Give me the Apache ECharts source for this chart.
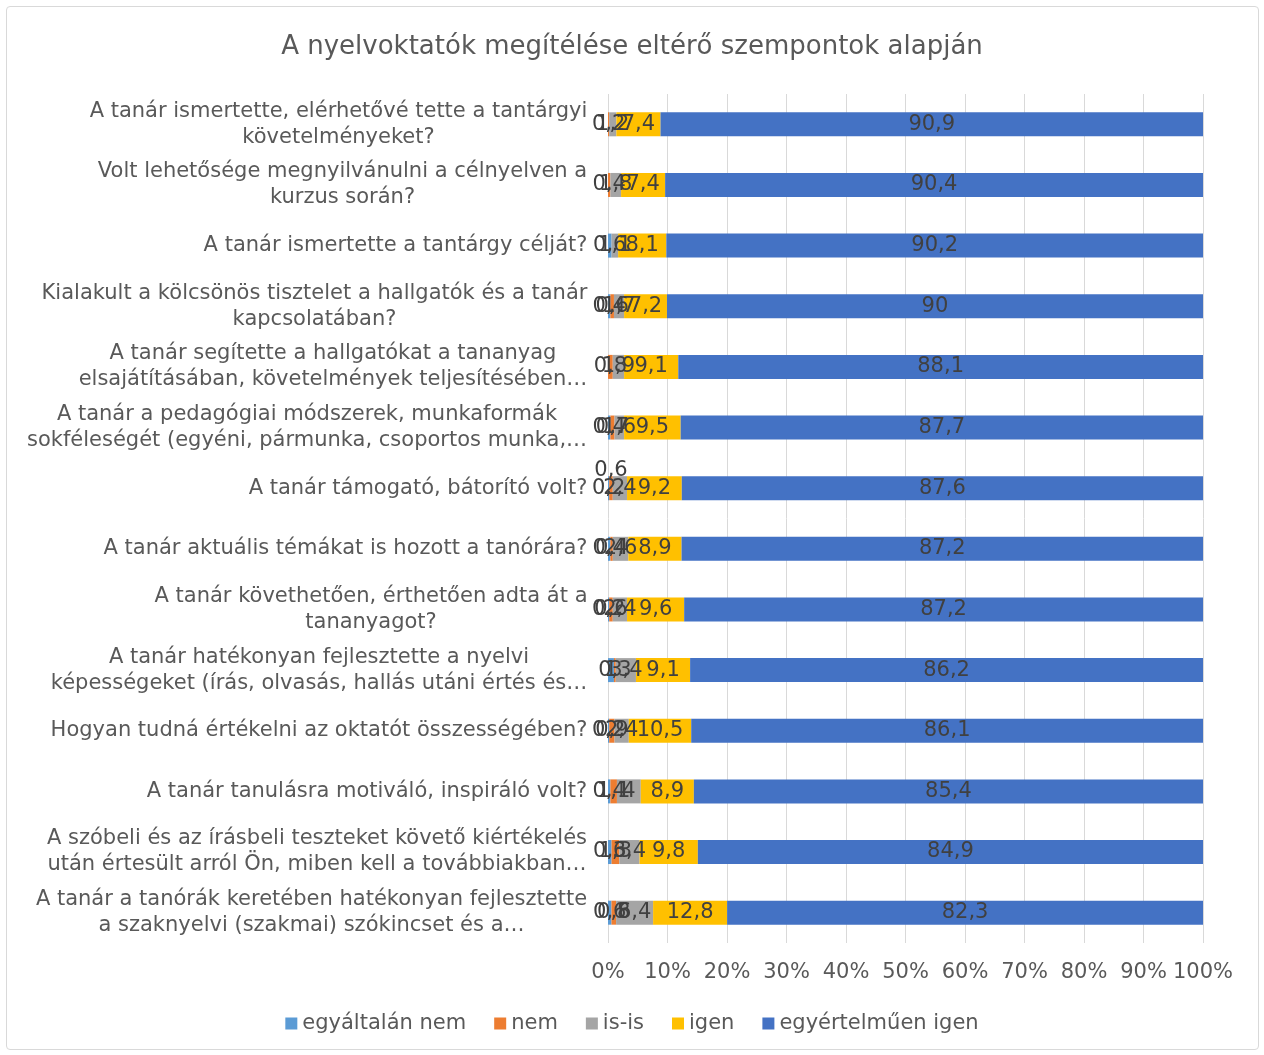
<!DOCTYPE html>
<html><head><meta charset="utf-8">
<script src="https://cdn.jsdelivr.net/npm/echarts@6/dist/echarts.min.js"></script>
<style>
html,body{margin:0;padding:0;background:#fff;}
#frame{position:absolute;left:6px;top:6px;width:1253px;height:1044px;border:1px solid #d9d9d9;border-radius:4px;box-sizing:border-box;}
#chart{position:absolute;left:0;top:0;width:1264px;height:1055px;}
</style></head>
<body><div id="frame"></div><div id="chart"></div>
<script>
const categories = [
  "A tanár ismertette, elérhetővé tette a tantárgyi\nkövetelményeket?",
  "Volt lehetősége megnyilvánulni a célnyelven a\nkurzus során?",
  "A tanár ismertette a tantárgy célját?",
  "Kialakult a kölcsönös tisztelet a hallgatók és a tanár\nkapcsolatában?",
  "A tanár segítette a hallgatókat a tananyag\nelsajátításában, követelmények teljesítésében…",
  "A tanár a pedagógiai módszerek, munkaformák\nsokféleségét (egyéni, pármunka, csoportos munka,…",
  "A tanár támogató, bátorító volt?",
  "A tanár aktuális témákat is hozott a tanórára?",
  "A tanár követhetően, érthetően adta át a\ntananyagot?",
  "A tanár hatékonyan fejlesztette a nyelvi\nképességeket (írás, olvasás, hallás utáni értés és…",
  "Hogyan tudná értékelni az oktatót összességében?",
  "A tanár tanulásra motiváló, inspiráló volt?",
  "A szóbeli és az írásbeli teszteket követő kiértékelés\nután értesült arról Ön, miben kell a továbbiakban…",
  "A tanár a tanórák keretében hatékonyan fejlesztette\na szaknyelvi (szakmai) szókincset és a…"
];

const seriesNames = ["egyáltalán nem", "nem", "is-is", "igen", "egyértelműen igen"];
const egyaltalanNem    = [0,   0,   0.6, 0.4, 0,   0.4, 0.2, 0.4, 0.2, 1.0, 0.2, 0.4, 0.6, 0.6];
const nem              = [0.2, 0.4, 0,   0.6, 0.8, 0.7, 0.6, 0.4, 0.6, 0.3, 0.9, 1.1, 1.3, 0.8];
const isIs             = [1.2, 1.8, 1.1, 1.7, 1.9, 1.6, 2.4, 2.6, 2.4, 3.4, 2.4, 4,   3.4, 6.4];
const igen             = [7.4, 7.4, 8.1, 7.2, 9.1, 9.5, 9.2, 8.9, 9.6, 9.1, 10.5, 8.9, 9.8, 12.8];
const egyertelmuenIgen = [90.9, 90.4, 90.2, 90, 88.1, 87.7, 87.6, 87.2, 87.2, 86.2, 86.1, 85.4, 84.9, 82.3];
const xTicks = [0, 10, 20, 30, 40, 50, 60, 70, 80, 90, 100];

const colors = ["#5B9BD5", "#ED7D31", "#A5A5A5", "#FFC000", "#4472C4"];
const allSeries = [egyaltalanNem, nem, isIs, igen, egyertelmuenIgen];
const totals = categories.map((_, i) => allSeries.reduce((s, arr) => s + arr[i], 0));

const FONT = '"DejaVu Sans", Verdana, sans-serif';
const catSize = 21;
const cv = document.createElement('canvas').getContext('2d');
cv.font = catSize + 'px "DejaVu Sans"';
const rich = {};
categories.forEach((c, i) => {
  const w = Math.max(...c.split('\n').map(l => cv.measureText(l).width));
  rich['c' + i] = { width: Math.ceil(w) + 1, align: 'center', fontSize: catSize, lineHeight: 26, color: '#595959', fontFamily: FONT };
});

const series = allSeries.map((arr, si) => ({
  name: seriesNames[si],
  type: 'bar',
  stack: 'total',
  barWidth: 24,
  itemStyle: { color: colors[si] },
  label: {
    show: true,
    position: 'inside',
    color: '#404040',
    fontSize: 21,
    fontFamily: FONT,
    formatter: p => (p.data.raw === 0 ? '' : String(p.data.raw).replace('.', ','))
  },
  data: arr.map((v, i) => {
    const item = { value: v / totals[i] * 100, raw: v };
    if (si === 1 && i === 6) item.label = { offset: [0, -18] };
    return item;
  })
}));

const chart = echarts.init(document.getElementById('chart'));
chart.setOption({
  animation: false,
  color: colors,
  title: {
    text: 'A nyelvoktatók megítélése eltérő szempontok alapján',
    left: 'center',
    top: 29,
    textStyle: { fontSize: 26, fontWeight: 'normal', color: '#595959', fontFamily: FONT }
  },
  legend: {
    data: seriesNames,
    bottom: 16,
    left: 'center',
    icon: 'rect',
    itemWidth: 12,
    itemHeight: 12,
    itemGap: 28,
    textStyle: { fontSize: 21, color: '#595959', fontFamily: FONT }
  },
  grid: { left: 608, right: 61, top: 94, bottom: 112, containLabel: false },
  xAxis: {
    type: 'value',
    min: 0,
    max: 100,
    interval: 10,
    axisLine: { show: false },
    axisTick: { show: false },
    splitLine: { show: true, lineStyle: { color: '#d9d9d9', width: 1 } },
    axisLabel: {
      fontSize: 21, color: '#595959', fontFamily: FONT, margin: 19,
      formatter: v => (xTicks.includes(v) ? v + '%' : '')
    }
  },
  yAxis: {
    type: 'category',
    inverse: true,
    data: categories,
    axisLine: { show: false },
    axisTick: { show: false },
    axisLabel: {
      margin: 20,
      formatter: (v, i) => '{c' + i + '|' + v + '}',
      rich: rich
    }
  },
  series: series
});
</script>
</body></html>
